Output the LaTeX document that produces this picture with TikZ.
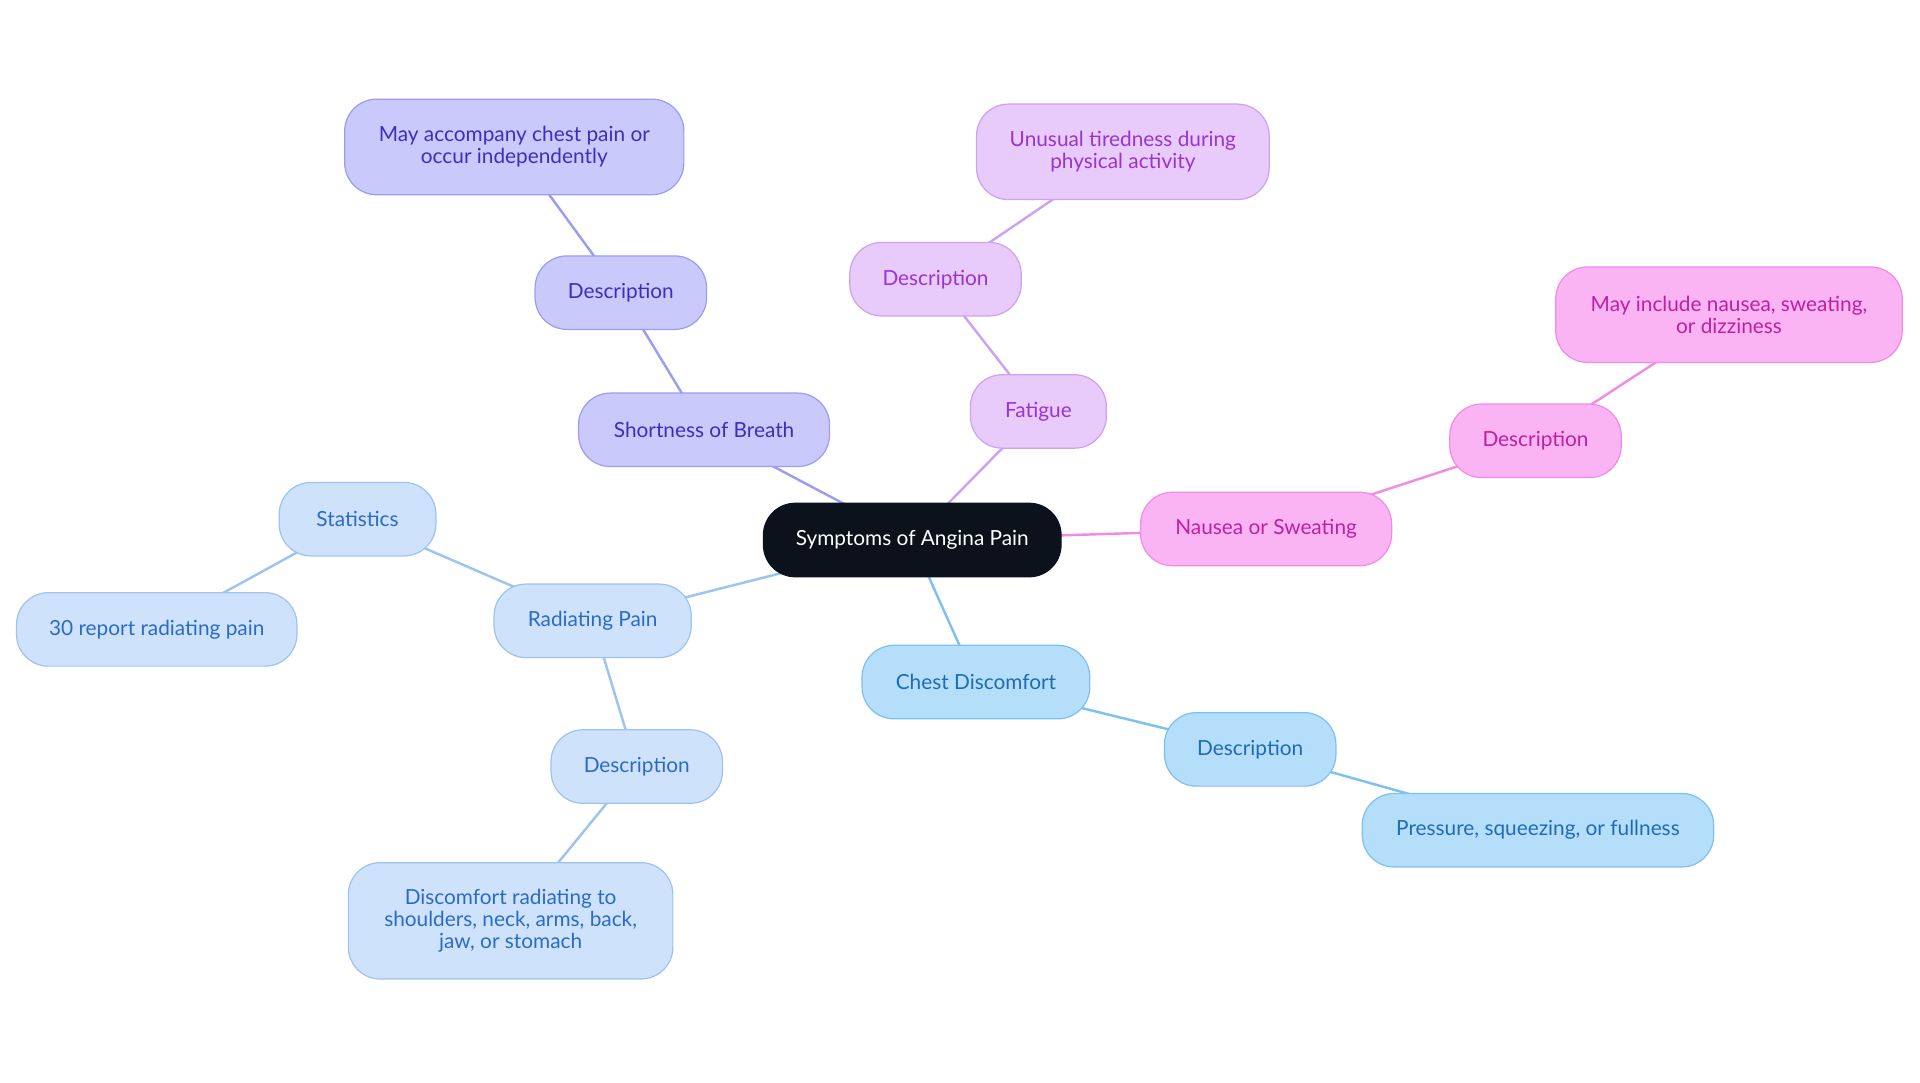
\documentclass[tikz,border=0pt]{standalone}
\usepackage{fontspec}
\setmainfont{Lato}
\usetikzlibrary{backgrounds}
\definecolor{rootc}{HTML}{0B121C}
\definecolor{sbF}{HTML}{C9CAFB}\definecolor{sbD}{HTML}{9C9CF0}\definecolor{sbT}{HTML}{3B2FBE}
\definecolor{faF}{HTML}{E8CAFB}\definecolor{faD}{HTML}{CDA2F0}\definecolor{faT}{HTML}{9935CF}
\definecolor{naF}{HTML}{FBB4F3}\definecolor{naD}{HTML}{F08BE6}\definecolor{naT}{HTML}{C0209E}
\definecolor{chF}{HTML}{B5DEFB}\definecolor{chD}{HTML}{7EC1F0}\definecolor{chT}{HTML}{1E6CB6}
\definecolor{raF}{HTML}{CFE2FB}\definecolor{raD}{HTML}{9DC3F0}\definecolor{raT}{HTML}{2A6BC8}
\tikzset{
 box/.style={rounded corners=26pt, minimum height=60pt, align=center, font=\fontsize{17}{18}\selectfont, line width=1pt, inner sep=0pt},
 sb/.style={box, fill=sbF, draw=sbD, text=sbT},
 fa/.style={box, fill=faF, draw=faD, text=faT},
 na/.style={box, fill=naF, draw=naD, text=naT},
 ch/.style={box, fill=chF, draw=chD, text=chT},
 ra/.style={box, fill=raF, draw=raD, text=raT},
 e/.style={line width=2pt}
}
\begin{document}
\begin{tikzpicture}[x=1pt,y=-1pt]
\useasboundingbox (0,0) rectangle (1568,884);
\node[box, fill=rootc, draw=rootc, text=white, minimum width=243pt] (root) at (745,441) {Symptoms of Angina Pain};
\node[sb, minimum width=205pt] (sob) at (575,351) {Shortness of Breath};
\node[sb, minimum width=140pt] (sobd) at (507,239) {Description};
\node[sb, minimum width=277pt, minimum height=78pt] (sobt) at (420,120) {May accompany chest pain or\\occur independently};
\node[fa, minimum width=111pt] (fat) at (848,336) {Fatigue};
\node[fa, minimum width=140pt] (fatd) at (764,228) {Description};
\node[fa, minimum width=239pt, minimum height=78pt] (fatt) at (917,124) {Unusual tiredness during\\physical activity};
\node[na, minimum width=205pt] (nau) at (1034,432) {Nausea or Sweating};
\node[na, minimum width=140pt] (naud) at (1254,360) {Description};
\node[na, minimum width=283pt, minimum height=78pt] (naut) at (1412,257) {May include nausea, sweating,\\or dizziness};
\node[ch, minimum width=186pt] (che) at (797,557) {Chest Discomfort};
\node[ch, minimum width=140pt] (ched) at (1021,612) {Description};
\node[ch, minimum width=287pt] (chet) at (1256,678) {Pressure, squeezing, or fullness};
\node[ra, minimum width=161pt] (rad) at (484,507) {Radiating Pain};
\node[ra, minimum width=128pt] (stat) at (292,424) {Statistics};
\node[ra, minimum width=229pt] (statt) at (128,514) {30 report radiating pain};
\node[ra, minimum width=140pt] (radd) at (520,626) {Description};
\node[ra, minimum width=265pt, minimum height=95pt] (radt) at (417,752) {Discomfort radiating to\\shoulders, neck, arms, back,\\jaw, or stomach};
\begin{pgfonlayer}{background}
\draw[e, sbD] (root.center) -- (sob.center) -- (sobd.center) -- (sobt.center);
\draw[e, faD] (root.center) -- (fat.center) -- (fatd.center) -- (fatt.center);
\draw[e, naD] (root.center) -- (nau.center) -- (naud.center) -- (naut.center);
\draw[e, chD] (root.center) -- (che.center) -- (ched.center) -- (chet.center);
\draw[e, raD] (root.center) -- (rad.center) -- (stat.center) -- (statt.center);
\draw[e, raD] (rad.center) -- (radd.center) -- (radt.center);
\end{pgfonlayer}
\end{tikzpicture}
\end{document}
